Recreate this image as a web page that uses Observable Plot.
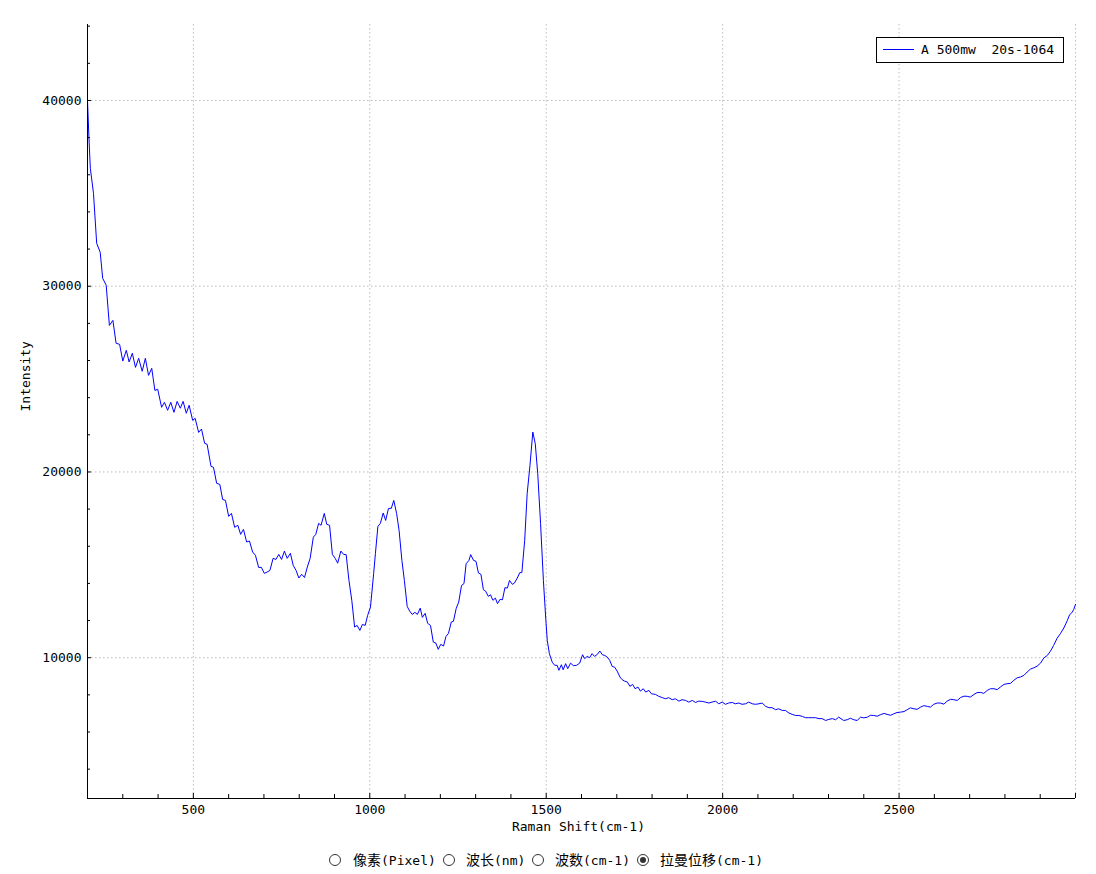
<!DOCTYPE html>
<html>
<head>
<meta charset="utf-8">
<script src="https://cdn.jsdelivr.net/npm/d3@7"></script>
<script src="https://cdn.jsdelivr.net/npm/@observablehq/plot@0.6"></script>
<style>
  html, body { margin: 0; padding: 0; background: #fff; }
  #wrap { position: relative; width: 1096px; height: 874px; overflow: hidden; }
  #chart svg { display: block; }
  .mono { font-family: "DejaVu Sans Mono", "Noto Sans CJK SC", monospace; font-size: 13px; color: #000; }
  #legend { position: absolute; left: 876px; top: 37px; width: 186px; height: 24px; border: 1px solid #000; background: #fff; }
  #legend .swatch { position: absolute; left: 6px; top: 11px; width: 31px; height: 0; border-top: 1px solid #0000ff; }
  #legend .lbl { position: absolute; left: 44px; top: 4px; white-space: pre; line-height: 16px; }
  #radios { position: absolute; left: 0; top: 849px; width: 1096px; height: 22px; }
  .circ { position: absolute; top: 5px; width: 12px; height: 12px; box-sizing: border-box; border: 1px solid #333; border-radius: 50%; background: #fff; }
  .circ.on::after { content: ""; position: absolute; left: 2px; top: 2px; width: 6px; height: 6px; border-radius: 50%; background: #333; }
  .rtxt { position: absolute; top: 2px; line-height: 18px; white-space: pre; }
  .cjk { font-size: 14px; }
</style>
</head>
<body>
<div id="wrap">
  <div id="chart"></div>
  <div id="legend" class="mono"><div class="swatch"></div><div class="lbl"></div></div>
  <div id="radios" class="mono"></div>
</div>
<script>
const seriesName = "A 500mw  20s-1064";
const xLabel = "Raman Shift(cm-1)";
const yLabel = "Intensity";
const xMajorTicks = [500, 1000, 1500, 2000, 2500, 3000];
const yMajorTicks = [10000, 20000, 30000, 40000];
const radioLabels = ["像素(Pixel)", "波长(nm)", "波数(cm-1)", "拉曼位移(cm-1)"];
const radioChecked = 3;

const shift = [200,204,208,217,226,236,243,253,262,272,281,291,300,310,318,327,336,345,355,364,373,382,391,399,410,418,427,436,445,454,463,471,480,488,498,505,515,523,532,539,550,557,566,575,583,591,600,608,617,626,634,642,651,659,668,676,685,693,701,709,717,726,734,742,750,758,766,775,783,791,799,807,815,823,831,840,847,855,862,871,878,886,894,902,909,918,926,933,941,949,957,964,972,979,987,994,1002,1011,1016,1023,1030,1038,1045,1053,1061,1068,1076,1083,1091,1098,1106,1113,1120,1128,1135,1143,1149,1157,1164,1172,1180,1187,1194,1201,1209,1216,1223,1231,1237,1245,1252,1260,1267,1273,1281,1286,1294,1301,1308,1315,1322,1328,1336,1342,1349,1356,1362,1369,1376,1383,1390,1396,1404,1410,1418,1425,1431,1439,1446,1454,1462,1469,1476,1484,1492,1499,1503,1509,1517,1524,1531,1536,1543,1548,1555,1561,1569,1577,1586,1595,1603,1609,1616,1623,1630,1637,1645,1652,1659,1666,1673,1680,1687,1694,1701,1709,1715,1722,1730,1737,1745,1752,1760,1767,1775,1782,1791,1798,1810,1819,1829,1838,1847,1857,1866,1876,1885,1895,1904,1914,1923,1932,1942,1951,1961,1970,1980,1989,1999,2008,2017,2027,2036,2046,2055,2065,2074,2084,2093,2103,2112,2122,2131,2140,2150,2159,2169,2178,2188,2197,2207,2216,2226,2235,2244,2254,2263,2273,2282,2292,2301,2311,2320,2329,2343,2353,2362,2372,2381,2391,2400,2410,2419,2428,2438,2447,2457,2466,2476,2485,2494,2504,2514,2523,2532,2542,2551,2561,2570,2580,2589,2598,2608,2617,2627,2636,2646,2655,2665,2674,2684,2693,2702,2712,2721,2731,2740,2750,2759,2769,2778,2787,2797,2806,2816,2825,2835,2844,2854,2863,2872,2882,2891,2901,2910,2920,2929,2938,2948,2957,2967,2977,2983,2991,2995,3000];

const intensity = [40000,38030,36350,35000,32310,31830,30430,30050,27890,28160,26930,26870,25970,26550,25920,26390,25630,26120,25420,26120,25200,25580,24390,24450,23480,23750,23320,23750,23210,23800,23430,23800,23160,23590,22780,22890,22130,22310,21540,21490,20300,20250,19390,19330,18520,18470,17610,17770,17020,17130,16640,16910,16230,16280,15690,15510,14860,14860,14540,14610,14700,15350,15290,15560,15290,15740,15350,15620,14970,14700,14290,14490,14320,14880,15350,16490,16640,17230,17130,17770,17180,17130,15560,15350,15090,15740,15560,15550,14160,13090,11650,11740,11470,11790,11740,12280,12730,14540,15620,17070,17230,17790,17390,18040,18040,18470,17770,16860,15240,14160,12760,12510,12330,12440,12330,12670,12170,12390,11850,11740,10840,10790,10450,10720,10630,11150,11310,11920,11960,12660,12990,13890,13990,15060,15240,15550,15240,15190,14560,14490,13660,13590,13300,13390,13090,13210,12910,13140,13120,13770,13750,14160,13950,14020,14290,14580,14580,16320,18830,20360,22150,21520,19910,17220,14160,12010,10930,10220,9760,9590,9590,9320,9620,9350,9680,9410,9710,9570,9590,9710,10160,9950,10070,10000,10220,10070,10180,10360,10160,10120,10030,9860,9530,9490,9280,8960,8820,8740,8690,8460,8560,8330,8420,8200,8330,8150,8240,8060,8020,7920,7850,7790,7850,7740,7790,7660,7740,7700,7610,7700,7590,7660,7650,7610,7560,7610,7660,7520,7610,7490,7560,7590,7520,7560,7490,7520,7610,7520,7490,7520,7560,7380,7310,7310,7200,7250,7160,7160,7020,6950,6890,6890,6840,6770,6770,6770,6770,6720,6720,6620,6680,6720,6660,6800,6620,6660,6740,6660,6620,6800,6760,6800,6900,6890,6850,6930,7000,6950,6900,6980,7050,7070,7100,7200,7300,7250,7220,7340,7420,7380,7340,7490,7560,7560,7500,7660,7760,7740,7700,7850,7930,7920,7880,8020,8120,8130,8080,8240,8330,8330,8280,8420,8560,8600,8620,8780,8920,8960,9050,9230,9380,9460,9540,9710,9980,10120,10350,10660,11050,11290,11600,12010,12300,12460,12600,12870];

const xDomain = [200, 3000];
const yDomain = [2420, 44090];

const data = shift.map((s, i) => ({s, v: intensity[i]}));
const xMinor = d3.range(300, 3000, 100).filter(v => v % 500 !== 0);
const yMinor = d3.range(4000, 44001, 2000).filter(v => v % 10000 !== 0);

const W = 1096, H = 842, mL = 87, mR = 21, mT = 24, mB = 44;
const fw = W - mL - mR, fh = H - mT - mB;

const chart = Plot.plot({
  width: W, height: H,
  marginLeft: mL, marginRight: mR, marginTop: mT, marginBottom: mB,
  style: {fontFamily: '"DejaVu Sans Mono", monospace', fontSize: "13px", color: "#000", background: "#fff"},
  x: {domain: xDomain, axis: null},
  y: {domain: yDomain, axis: null},
  marks: [
    Plot.ruleX(xMajorTicks, {stroke: "#bdbdbd", strokeDasharray: "1.5,2.5"}),
    Plot.ruleY(yMajorTicks, {stroke: "#bdbdbd", strokeDasharray: "1.5,2.5"}),
    Plot.line(data, {x: "s", y: "v", stroke: "#0000ff", strokeWidth: 1}),
    Plot.tickX(xMinor, {x: d => d, insetTop: fh - 4, stroke: "#000"}),
    Plot.tickX(xMajorTicks, {x: d => d, insetTop: fh - 5, stroke: "#000"}),
    Plot.tickY(yMinor, {y: d => d, insetRight: fw - 3, stroke: "#000"}),
    Plot.tickY(yMajorTicks, {y: d => d, insetRight: fw - 4, stroke: "#000"}),
    Plot.ruleX([xDomain[0]], {stroke: "#000"}),
    Plot.ruleY([yDomain[0]], {stroke: "#000"}),
    Plot.axisX(xMajorTicks.filter(v => v < 3000), {tickSize: 0, tickPadding: 6, fill: "#000", label: null, tickFormat: d => String(d)}),
    Plot.axisY(yMajorTicks, {tickSize: 0, tickPadding: 6, fill: "#000", label: null, tickFormat: d => String(d)}),
    Plot.text([xLabel], {frameAnchor: "bottom", dy: 32, dx: -3, fill: "#000"}),
    Plot.text([yLabel], {frameAnchor: "left", dx: -62, rotate: -90, fill: "#000"})
  ]
});
document.getElementById("chart").append(chart);

document.querySelector("#legend .lbl").textContent = seriesName;

const radios = document.getElementById("radios");
const circleLeft = [329, 443, 532, 637];
const textLeft = [353, 466, 555, 660];
radioLabels.forEach((t, i) => {
  const c = document.createElement("span");
  c.className = "circ" + (i === radioChecked ? " on" : "");
  c.style.left = circleLeft[i] + "px";
  const s = document.createElement("span");
  s.className = "rtxt";
  s.style.left = textLeft[i] + "px";
  const m = t.match(/^([^\x00-\x7f]+)(.*)$/);
  const cj = document.createElement("span");
  cj.className = "cjk";
  cj.textContent = m ? m[1] : "";
  s.append(cj, document.createTextNode(m ? m[2] : t));
  radios.append(c, s);
});
</script>
</body>
</html>
